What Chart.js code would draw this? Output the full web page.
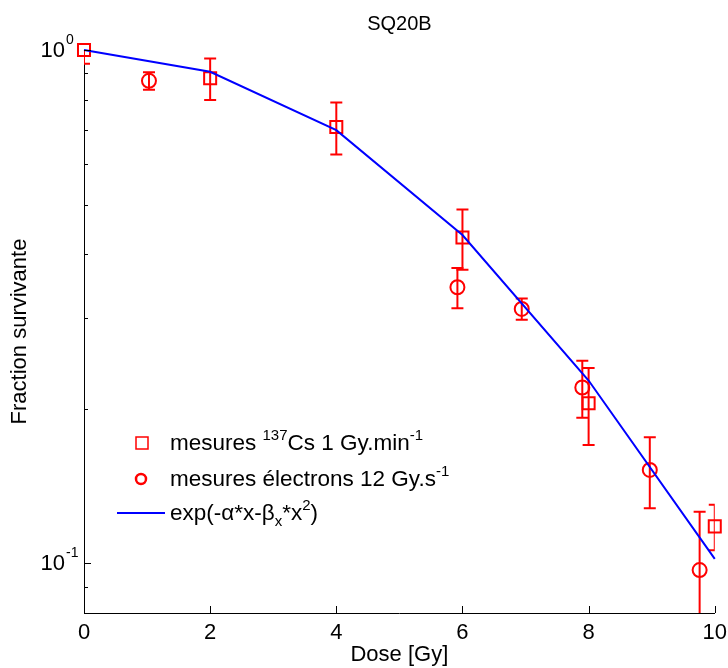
<!DOCTYPE html>
<html>
<head>
<meta charset="utf-8">
<title>SQ20B</title>
<script src="https://cdn.jsdelivr.net/npm/chart.js@4.4.1/dist/chart.umd.min.js"></script>
<style>
  html, body { margin: 0; padding: 0; background: #fff; }
  #wrap { width: 728px; height: 668px; }
</style>
</head>
<body>
<div id="wrap"><canvas id="chart" width="728" height="668"></canvas></div>
<script>
// data
const csDose = [0, 2, 4, 6, 8, 10];
const csSurv = [1.0, 0.881, 0.708, 0.431, 0.205, 0.118];
const csErr = [0.06, 0.082, 0.082, 0.058, 0.035, 0.012];

const elDose = [1.03, 5.92, 6.94, 7.9, 8.97, 9.76];
const elSurv = [0.871, 0.345, 0.313, 0.22, 0.152, 0.097];
const elErr = [0.034, 0.031, 0.015, 0.028, 0.024, 0.029];

const fitDose = [0, 2, 4, 6, 8, 10];
const fitSurv = [1.0, 0.907, 0.698, 0.436, 0.227, 0.102];

const xTicks = [0, 2, 4, 6, 8, 10];
const yTicks = [0.09, 0.1, 0.2, 0.3, 0.4, 0.5, 0.6, 0.7, 0.8, 0.9, 1];
const yMajor = [0.1, 1];
const yMajorExp = ['-1', '0'];

// legend text, split into normal / superscript / subscript pieces
const legendCs = [['mesures ', 'n'], ['137', 'sup'], ['Cs 1 Gy.min', 'n'], ['-1', 'sup']];
const legendEl = [['mesures électrons 12 Gy.s', 'n'], ['-1', 'sup']];
const legendFit = [['exp(-α*x-β', 'n'], ['x', 'sub'], ['*x', 'n'], ['2', 'sup'], [')', 'n']];

const RED = '#ff0000';
const BLUE = '#0000ff';
const FONT = '"Liberation Sans", Arial, Helvetica, sans-serif';

Chart.defaults.font.family = FONT;
Chart.defaults.color = '#000';

const toPoints = (xs, ys) => xs.map((v, i) => ({ x: v, y: ys[i] }));
const plainText = parts => parts.map(p => p[0]).join('');

// error bars, clipped to the axes like the original
const errorBars = {
    id: 'errorBars',
    beforeDatasetsDraw(chart) {
        const { ctx, chartArea: a, scales: { x, y } } = chart;
        ctx.save();
        ctx.beginPath();
        ctx.rect(a.left, a.top, a.right - a.left, a.bottom - a.top);
        ctx.clip();
        ctx.strokeStyle = RED;
        ctx.lineWidth = 2;
        [[csDose, csSurv, csErr], [elDose, elSurv, elErr]].forEach(([xs, ys, es]) => {
            xs.forEach((v, i) => {
                const px = x.getPixelForValue(v);
                const top = y.getPixelForValue(ys[i] + es[i]);
                const bot = y.getPixelForValue(Math.max(ys[i] - es[i], 0.001));
                ctx.beginPath();
                ctx.moveTo(px, top); ctx.lineTo(px, bot);
                ctx.moveTo(px - 6, top); ctx.lineTo(px + 6, top);
                ctx.moveTo(px - 6, bot); ctx.lineTo(px + 6, bot);
                ctx.stroke();
            });
        });
        ctx.restore();
    }
};

// inward tick marks + 10^n labels on the log axis
const axisDecor = {
    id: 'axisDecor',
    afterDraw(chart) {
        const { ctx, chartArea: a, scales: { x, y } } = chart;
        ctx.save();
        ctx.strokeStyle = '#000';
        ctx.lineWidth = 1;
        ctx.beginPath();
        xTicks.forEach(v => {
            const px = Math.round(x.getPixelForValue(v)) + 0.5;
            ctx.moveTo(px, a.bottom); ctx.lineTo(px, a.bottom - 7);
        });
        yTicks.forEach(v => {
            const py = Math.round(y.getPixelForValue(v)) + 0.5;
            const len = yMajor.includes(v) ? 7 : 4;
            ctx.moveTo(a.left, py); ctx.lineTo(a.left + len, py);
        });
        ctx.stroke();

        ctx.fillStyle = '#000';
        yMajor.forEach((v, i) => {
            const py = y.getPixelForValue(v);
            ctx.font = '22px ' + FONT;
            ctx.textAlign = 'right';
            ctx.textBaseline = 'middle';
            ctx.fillText('10', a.left - 19, py + 1);
            ctx.font = '14px ' + FONT;
            ctx.textAlign = 'left';
            ctx.textBaseline = 'alphabetic';
            ctx.fillText(yMajorExp[i], a.left - 18, py - 6);
        });
        ctx.restore();
    }
};

function drawRich(ctx, parts, x, y) {
    parts.forEach(([t, kind]) => {
        let dy = 0;
        if (kind === 'n') ctx.font = '22.5px ' + FONT;
        else { ctx.font = '15px ' + FONT; dy = kind === 'sup' ? -10 : 6; }
        ctx.fillText(t, x, y + dy);
        x += ctx.measureText(t).width;
    });
}

// legend with superscripts, inside the axes
const richLegend = {
    id: 'richLegend',
    afterDraw(chart) {
        const { ctx, chartArea: a } = chart;
        const mx = a.left + 58, tx = a.left + 86;
        const rows = [a.top + 393, a.top + 429, a.top + 463];
        ctx.save();
        ctx.textAlign = 'left';
        ctx.textBaseline = 'alphabetic';
        ctx.fillStyle = '#000';

        ctx.strokeStyle = RED;
        ctx.lineWidth = 1.5;
        ctx.strokeRect(mx - 6, rows[0] - 6, 12, 12);
        ctx.lineWidth = 2.5;
        ctx.beginPath();
        ctx.arc(mx - 1, rows[1], 5, 0, Math.PI * 2);
        ctx.stroke();
        ctx.strokeStyle = BLUE;
        ctx.lineWidth = 2;
        ctx.beginPath();
        ctx.moveTo(a.left + 33, rows[2]); ctx.lineTo(a.left + 81, rows[2]);
        ctx.stroke();

        drawRich(ctx, legendCs, tx, rows[0] + 7);
        drawRich(ctx, legendEl, tx, rows[1] + 7);
        drawRich(ctx, legendFit, tx, rows[2] + 7);
        ctx.restore();
    }
};

new Chart(document.getElementById('chart'), {
    type: 'line',
    data: {
        datasets: [{
            label: plainText(legendFit),
            data: toPoints(fitDose, fitSurv),
            borderColor: BLUE,
            borderWidth: 2,
            pointRadius: 0,
            tension: 0,
            fill: false,
            clip: false,
            order: 0
        }, {
            label: plainText(legendCs),
            data: toPoints(csDose, csSurv),
            showLine: false,
            pointStyle: 'rect',
            pointRadius: 8.5,
            pointBorderWidth: 2,
            borderColor: RED,
            pointBorderColor: RED,
            pointBackgroundColor: 'rgba(0,0,0,0)',
            clip: false,
            order: 1
        }, {
            label: plainText(legendEl),
            data: toPoints(elDose, elSurv),
            showLine: false,
            pointStyle: 'circle',
            pointRadius: 7,
            pointBorderWidth: 2,
            borderColor: RED,
            pointBorderColor: RED,
            pointBackgroundColor: 'rgba(0,0,0,0)',
            clip: false,
            order: 2
        }]
    },
    options: {
        responsive: false,
        animation: false,
        devicePixelRatio: 1,
        layout: { padding: { left: 0, right: 13, top: 0, bottom: 0 } },
        plugins: {
            legend: { display: false },
            tooltip: { enabled: false },
            title: {
                display: true,
                text: 'SQ20B',
                fullSize: false,
                color: '#000',
                font: { size: 20, weight: 'normal', lineHeight: 1.2 },
                padding: { top: 12, bottom: 14 }
            }
        },
        scales: {
            x: {
                type: 'linear',
                min: 0,
                max: 10,
                grid: { display: false },
                border: { display: true, color: '#000', width: 1 },
                ticks: { stepSize: 2, color: '#000', padding: 1, font: { size: 22, lineHeight: 1 } },
                afterFit: scale => { scale.height = 55; },
                title: {
                    display: true,
                    text: 'Dose [Gy]',
                    color: '#000',
                    font: { size: 22, lineHeight: 1.2 },
                    padding: { top: 0, bottom: 0 }
                }
            },
            y: {
                type: 'logarithmic',
                min: 0.08,
                max: 1,
                grid: { display: false },
                border: { display: true, color: '#000', width: 1 },
                ticks: { display: false },
                afterBuildTicks: scale => { scale.ticks = yTicks.map(v => ({ value: v })); },
                afterFit: scale => { scale.width = 84; },
                title: {
                    display: true,
                    text: 'Fraction survivante',
                    color: '#000',
                    font: { size: 22, lineHeight: 1.2 },
                    padding: { top: 7, bottom: 51 }
                }
            }
        }
    },
    plugins: [errorBars, axisDecor, richLegend]
});
</script>
</body>
</html>
